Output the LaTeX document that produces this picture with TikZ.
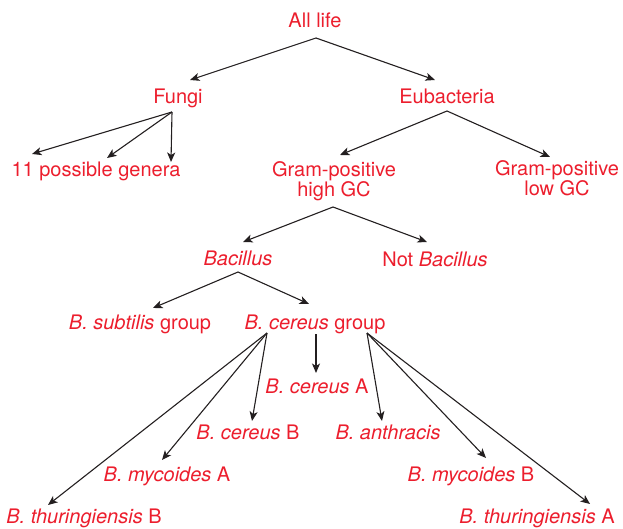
\documentclass[tikz,border=0pt]{standalone}
\usepackage{fontspec}
\setmainfont{TeX Gyre Heros}
\usetikzlibrary{arrows.meta}
\definecolor{taxred}{RGB}{236,30,45}
\definecolor{arrowgray}{RGB}{35,31,32}

\begin{document}
\begin{tikzpicture}[x=1pt,y=-1pt,
  every node/.style={text=taxred,inner sep=0pt,anchor=base,font=\fontsize{20}{19}\selectfont},
  two/.style={align=center},
  arr/.style={draw=arrowgray,line width=1.1pt,-{Stealth[length=9.5pt,width=8pt,inset=2.5pt]}}]
\useasboundingbox (0,0) rectangle (623,529);

  \node (life) at (315,28) {All life};
  \node (fungi) at (178,104) {Fungi};
  \node (eubact) at (447,104) {Eubacteria};
  \node (genera) at (96,177) {11 possible genera};
  \node[two] (gphigh) at (334,197) {Gram-positive\\high GC};
  \node[two] (gplow) at (557,196) {Gram-positive\\low GC};
  \node (bac) at (238,265) {\textit{Bacillus}};
  \node (notbac) at (435,266) {Not \textit{Bacillus}};
  \node (subt) at (140,329) {\textit{B. subtilis} group};
  \node (cgroup) at (315,329) {\textit{B. cereus} group};
  \node (cerA) at (317,393) {\textit{B. cereus} A};
  \node (cerB) at (248,439) {\textit{B. cereus} B};
  \node (anthr) at (388,439) {\textit{B. anthracis}};
  \node (mycA) at (167,481) {\textit{B. mycoides} A};
  \node (mycB) at (471,481) {\textit{B. mycoides} B};
  \node (thurB) at (84,523) {\textit{B. thuringiensis} B};
  \node (thurA) at (537,523) {\textit{B. thuringiensis} A};

  \draw[arr]([xshift=1pt,yshift=-10pt]life.base)--([xshift=12pt,yshift=24pt]fungi.base);
  \draw[arr]([xshift=1pt,yshift=-10pt]life.base)--([xshift=-12pt,yshift=24pt]eubact.base);
  \draw[arr]([xshift=-6pt,yshift=-8pt]fungi.base)--([xshift=-64pt,yshift=23pt]genera.base);
  \draw[arr]([xshift=-6pt,yshift=-8pt]fungi.base)--([xshift=11pt,yshift=19pt]genera.base);
  \draw[arr]([xshift=-6pt,yshift=-8pt]fungi.base)--([xshift=75pt,yshift=15pt]genera.base);
  \draw[arr]([yshift=-7pt]eubact.base)--([xshift=6pt,yshift=42pt]gphigh.base);
  \draw[arr]([yshift=-7pt]eubact.base)--([xshift=-7pt,yshift=39pt]gplow.base);
  \draw[arr]([xshift=-1pt,yshift=-10pt]gphigh.base)--([xshift=5pt,yshift=23pt]bac.base);
  \draw[arr]([xshift=-1pt,yshift=-10pt]gphigh.base)--([xshift=-8pt,yshift=24pt]notbac.base);
  \draw[arr]([yshift=-7pt]bac.base)--([xshift=13pt,yshift=21pt]subt.base);
  \draw[arr]([yshift=-7pt]bac.base)--([xshift=-6pt,yshift=25pt]cgroup.base);
  \draw[arr]([xshift=1pt,yshift=-5pt]cgroup.base)--([xshift=-1pt,yshift=20pt]cerA.base);
  \draw[arr]([xshift=-48pt,yshift=-4pt]cgroup.base)--([xshift=4pt,yshift=18pt]cerB.base);
  \draw[arr]([xshift=-48pt,yshift=-4pt]cgroup.base)--([xshift=-5pt,yshift=21pt]mycA.base);
  \draw[arr]([xshift=-48pt,yshift=-4pt]cgroup.base)--([xshift=-36pt,yshift=18pt]thurB.base);
  \draw[arr]([xshift=52pt,yshift=-4pt]cgroup.base)--([xshift=-6pt,yshift=18pt]anthr.base);
  \draw[arr]([xshift=52pt,yshift=-4pt]cgroup.base)--([xshift=15pt,yshift=23pt]mycB.base);
  \draw[arr]([xshift=52pt,yshift=-4pt]cgroup.base)--([xshift=53pt,yshift=19pt]thurA.base);
\end{tikzpicture}
\end{document}
